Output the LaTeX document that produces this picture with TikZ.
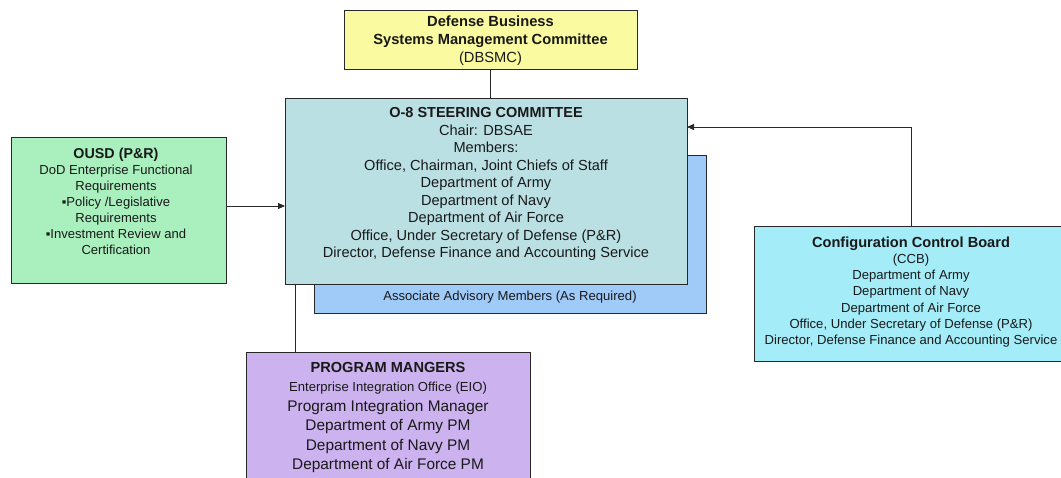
\documentclass[tikz,border=0pt]{standalone}
\usepackage{fontspec}
\setmainfont{Liberation Sans}
\usetikzlibrary{arrows.meta}
\definecolor{cYellow}{RGB}{250,250,160}
\definecolor{cMain}{RGB}{186,224,228}
\definecolor{cAssoc}{RGB}{160,202,248}
\definecolor{cGreen}{RGB}{170,240,190}
\definecolor{cCyan}{RGB}{164,236,248}
\definecolor{cPurple}{RGB}{204,178,238}
\definecolor{cLine}{RGB}{40,40,40}
\begin{document}
\begin{tikzpicture}[x=1pt,y=-1pt,
  box/.style={draw=cLine, line width=0.8pt, inner sep=0pt, outer sep=0pt},
  txt/.style={align=center, inner sep=0pt, text=black!90},
  conn/.style={draw=cLine, line width=0.8pt},
  arr/.style={conn, -{Triangle[width=6pt,length=7pt]}}]
\useasboundingbox (0,0) rectangle (1061,477);

% boxes
\node[box, fill=cAssoc, minimum width=392pt, minimum height=158pt] (assoc) at (510,234) {};
\node[box, fill=cMain, minimum width=402pt, minimum height=186pt] (main) at (486,191) {};
\node[box, fill=cYellow, minimum width=293pt, minimum height=59pt] (dbsmc) at (490.5,39.5) {};
\node[box, fill=cGreen, minimum width=215pt, minimum height=146pt] (ousd) at (118.5,210) {};
\node[box, fill=cCyan, minimum width=312pt, minimum height=135pt] (ccb) at (910,293.5) {};
\node[box, fill=cPurple, minimum width=284pt, minimum height=132pt] (pm) at (388,418) {};

% texts
\node[txt, font=\fontsize{14.7}{18}\selectfont] (dbsmcT) at (490.5,40.5)
  {\textbf{Defense Business}\\ \textbf{Systems Management Committee}\\ (DBSMC)};

\node[txt, font=\fontsize{14.6}{17.5}\selectfont] (mainT) at (486,184) {%
  {\fontsize{14.5}{17.5}\selectfont\bfseries O-8 STEERING COMMITTEE}\\
  Chair: DBSAE\\
  Members:\\
  Office, Chairman, Joint Chiefs of Staff\\
  Department of Army\\
  Department of Navy\\
  Department of Air Force\\
  Office, Under Secretary of Defense (P\&R)\\
  Director, Defense Finance and Accounting Service};

\node[txt, font=\fontsize{13.1}{16}\selectfont] (assocT) at (510,297) {Associate Advisory Members (As Required)};

\node[txt, font=\fontsize{13.05}{16}\selectfont] (ousdT) at (116,201) {%
  {\fontsize{14.3}{16}\selectfont\bfseries OUSD (P\&R)}\\
  DoD Enterprise Functional\\
  Requirements\\
  ▪Policy /Legislative\\
  Requirements\\
  ▪Investment Review and\\
  Certification};

\node[txt, font=\fontsize{13.1}{16.2}\selectfont] (ccbT) at (911,292) {%
  {\fontsize{14.6}{16.2}\selectfont\bfseries Configuration Control Board}\\
  (CCB)\\
  Department of Army\\
  Department of Navy\\
  Department of Air Force\\
  Office, Under Secretary of Defense (P\&R)\\
  Director, Defense Finance and Accounting Service};

\node[txt, font=\fontsize{15.4}{19.4}\selectfont] (pmT) at (388,417.5) {%
  {\fontsize{14.6}{19.4}\selectfont\bfseries PROGRAM MANGERS}\\
  {\fontsize{13.1}{19.4}\selectfont Enterprise Integration Office (EIO)}\\
  Program Integration Manager\\
  Department of Army PM\\
  Department of Navy PM\\
  Department of Air Force PM};

% connectors
\draw[conn] (dbsmc.south) -- (dbsmc.south |- main.north);
\draw[arr] (ousd.east |- 0,206) -- (main.west |- 0,206);
\draw[arr] (ccb.north -| 911,0) |- (main.east |- 0,127);
\draw[conn] (main.south -| 295,0) -- (pm.north -| 295,0);
\end{tikzpicture}
\end{document}
